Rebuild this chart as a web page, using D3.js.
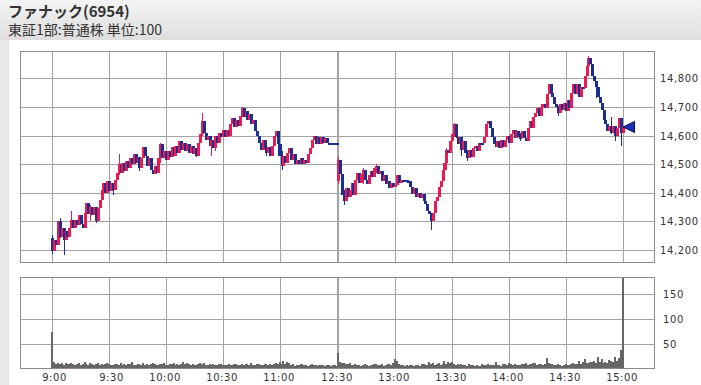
<!DOCTYPE html>
<html>
<head>
<meta charset="utf-8">
<script src="https://cdn.jsdelivr.net/npm/d3@7"></script>
<style>
body{margin:0;background:#fff;}
svg{display:block;}
</style>
</head>
<body>
<svg id="chart" width="701" height="385"></svg>
<script>
//minute closes, 9:00 - 11:30
var amClose = [14195,14235,14215,14300,14245,14275,14235,14265,14245,14275,
  14305,14275,14305,14285,14320,14290,14275,14330,14365,14325,
  14350,14320,14350,14300,14345,14375,14410,14435,14400,14440,
  14405,14435,14410,14445,14470,14500,14470,14505,14475,14510,
  14485,14520,14500,14535,14505,14525,14485,14520,14560,14530,
  14495,14520,14480,14465,14495,14470,14520,14570,14520,14545,
  14515,14545,14525,14560,14530,14565,14540,14580,14550,14575,
  14545,14570,14540,14565,14535,14555,14530,14575,14605,14650,
  14610,14585,14600,14565,14585,14555,14600,14575,14610,14595,
  14620,14595,14620,14600,14640,14660,14630,14655,14635,14670,
  14695,14665,14685,14655,14675,14640,14655,14615,14600,14575,
  14550,14585,14555,14540,14560,14530,14565,14600,14615,14570,
  14530,14495,14530,14505,14540,14555,14515,14535,14500,14515,
  14500,14520,14500,14515,14505,14535,14555,14585,14600,14570,
  14595,14570,14595,14575,14590,14575,14575,14575,14575,14575,
  14575];
//minute closes, 12:30 - 15:00
var pmClose = [14515,14465,14390,14370,14415,14385,14410,14435,14390,14445,
  14470,14435,14465,14480,14445,14430,14460,14475,14455,14485,
  14495,14465,14475,14440,14460,14430,14440,14415,14435,14420,
  14425,14460,14435,14445,14445,14445,14440,14440,14420,14395,
  14415,14385,14400,14380,14395,14370,14360,14335,14325,14300,
  14330,14370,14385,14420,14440,14480,14505,14550,14540,14580,
  14605,14640,14595,14570,14595,14550,14580,14540,14520,14550,
  14525,14555,14565,14545,14575,14575,14575,14595,14640,14650,
  14625,14595,14570,14560,14580,14555,14585,14560,14585,14600,
  14575,14605,14620,14590,14615,14595,14590,14615,14590,14580,
  14625,14650,14625,14665,14680,14695,14670,14700,14710,14695,
  14745,14780,14750,14735,14710,14700,14680,14710,14690,14715,
  14685,14725,14695,14750,14780,14745,14780,14735,14770,14765,
  14810,14845,14870,14850,14810,14790,14770,14735,14715,14690,
  14655,14640,14615,14635,14610,14635,14600,14625,14660,14610,
  14630];
var amOpen = 14240;
var pmOpen = 14440;

//[minute, high, low] for the longer shadows
var amWicks = [[0,14250,14185],[4,14310,14240],[6,14260,14180],[10,14335,14280],
  [20,14355,14300],[23,14350,14295],[32,14430,14390],[35,14535,14460],
  [46,14500,14475],[57,14575,14505],[79,14680,14600],[76,14545,14525],
  [84,14590,14530],[86,14600,14545],[100,14700,14665],[113,14560,14530],
  [119,14580,14530],[121,14545,14480]];
var pmWicks = [[0,14525,14430],[3,14410,14355],[13,14485,14430],[20,14500,14470],
  [49,14330,14270],[57,14555,14480],[61,14645,14595],[62,14640,14590],
  [65,14580,14530],[68,14550,14510],[96,14610,14580],[107,14710,14685],
  [116,14705,14670],[132,14880,14840],[136,14780,14730],[144,14665,14605],
  [146,14630,14580],[149,14655,14565]];

//volume (x1000 shares)
var amVol = [74,12,8,10,9,11,7,10,8,9,10,9,7,8,11,6,9,12,8,7,10,8,6,9,11,7,8,6,9,10,
  8,7,6,9,8,7,10,6,8,7,9,8,12,7,6,8,9,7,10,6,8,7,9,11,8,6,7,9,8,10,
  7,6,8,9,10,7,8,6,9,12,8,10,9,7,8,6,7,9,10,8,11,7,6,8,7,9,6,7,8,9,
  7,6,6,8,7,6,8,9,7,6,8,7,9,8,6,10,7,6,9,8,7,6,8,9,7,8,6,9,10,8,
  12,9,15,8,12,10,6,8,5,6,7,9,8,6,7,5,6,8,7,6,5,6,7,6,5,6,7,5,6,6,5];
var pmVol = [31,12,10,11,9,8,10,7,6,8,7,6,5,7,8,6,5,7,6,8,9,7,6,8,5,6,9,8,7,10,
  19,14,8,7,6,5,6,5,7,6,5,6,7,5,9,8,6,7,12,8,10,7,9,11,6,8,15,8,12,11,
  12,9,7,8,6,9,7,6,5,8,6,7,5,6,5,4,8,7,6,8,7,6,7,12,7,6,5,8,9,7,
  10,8,6,9,7,6,7,9,8,10,7,9,8,11,10,7,9,8,6,8,21,10,8,9,7,6,8,6,5,7,
  8,6,7,9,10,8,9,14,9,12,18,10,11,13,12,14,10,22,12,18,11,13,10,16,14,12,22,15,20,38,184];

var gridTimes = ["9:00","9:30","10:00","10:30","11:00","11:30","12:30","13:00","13:30","14:00","14:30","15:00"];
var labelTimes = ["9:00","9:30","10:00","10:30","11:00","12:30","13:00","13:30","14:00","14:30","15:00"];
var priceTicks = [14200,14300,14400,14500,14600,14700,14800];
var volTicks = [50,100,150];
var lastPrice = 14630;

var red = "#ec1a52", blue = "#1b2f8e";

//time string to a slot on the x axis (lunch break squeezed out)
var slotOf = function(t)
{
    var p = t.split(":");
    var min = (+p[0])*60 + (+p[1]);
    if(min <= 690) return min - 540;
    return 150.92 + (min - 750);
}

var buildSession = function(closes, firstOpen, wicks, startSlot)
{
    var wickMap = {};
    wicks.forEach(function(w){ wickMap[w[0]] = w; });
    return closes.map(function(c, i)
    {
        var o = i === 0 ? firstOpen : closes[i-1];
        var w = wickMap[i];
        return {
            slot: startSlot + i, open: o, close: c,
            high: w ? Math.max(w[1], o, c) : Math.max(o, c),
            low: w ? Math.min(w[2], o, c) : Math.min(o, c)
        };
    });
}

var candles = buildSession(amClose, amOpen, amWicks, 0)
    .concat(buildSession(pmClose, pmOpen, pmWicks, 150.92));
var vols = amVol.map(function(v, i){ return {slot: i, v: v}; })
    .concat(pmVol.map(function(v, i){ return {slot: 150.92 + i, v: v}; }));

var svg = d3.select("#chart");

//header
var defs = svg.append("defs");
var grad = defs.append("linearGradient").attr("id", "hdr")
    .attr("x1", 0).attr("y1", 0).attr("x2", 0).attr("y2", 1);
grad.append("stop").attr("offset", "0%").attr("stop-color", "#f4f4f4");
grad.append("stop").attr("offset", "100%").attr("stop-color", "#dedede");

svg.append("rect").attr("width", 701).attr("height", 40).attr("fill", "url(#hdr)");
svg.append("rect").attr("y", 40).attr("width", 9).attr("height", 345).attr("fill", "#e8e8e8");

svg.append("text").attr("x", 8).attr("y", 17)
    .style("font-family", "'Noto Sans CJK JP', sans-serif")
    .style("font-size", "15px").style("font-weight", "bold").attr("fill", "#333")
    .text("ファナック(6954)");
svg.append("text").attr("x", 8).attr("y", 35)
    .style("font-family", "'Noto Sans CJK JP', sans-serif")
    .style("font-size", "14px").attr("fill", "#333")
    .text("東証1部:普通株 単位:100");

//panels
var left = 20.7, right = 654.3;
var upper = {top: 51, bottom: 262.3};
var lower = {top: 277.3, bottom: 368.3};

var xScale = d3.scaleLinear()
    .domain([-16.68, 317.68])
    .range([left, right])
    .interpolate(d3.interpolateRound);
var yScale = d3.scaleLinear()
    .domain([14156, 14896])
    .range([upper.bottom, upper.top])
    .interpolate(d3.interpolateRound);
var vScale = d3.scaleLinear()
    .domain([0, 184.5])
    .range([lower.bottom, lower.top])
    .interpolate(d3.interpolateRound);

var gridSlots = gridTimes.map(slotOf);
var labelSlots = labelTimes.map(slotOf);

var drawGrid = function(panel, scale, ticks, fmt, pad)
{
    //vertical grid
    svg.append("g")
        .attr("transform", "translate(0," + panel.bottom + ")")
        .call(d3.axisBottom(xScale).tickValues(gridSlots)
            .tickSize(-(panel.bottom - panel.top)).tickFormat(""))
        .call(function(g){ g.select(".domain").remove(); })
        .selectAll("line").attr("stroke", "#a3a3a3");

    //horizontal grid + labels on the right
    var ax = svg.append("g")
        .attr("transform", "translate(" + Math.round(right) + ",0)")
        .call(d3.axisRight(scale).tickValues(ticks)
            .tickSize(-(Math.round(right) - Math.round(left))).tickPadding(pad).tickFormat(fmt));
    ax.select(".domain").remove();
    ax.selectAll("line").attr("stroke", "#a3a3a3");
    ax.selectAll("text").attr("fill", "#333")
        .style("font-family", "'DejaVu Sans', sans-serif")
        .style("font-size", "10px").style("letter-spacing", "0.6px");

    //border
    svg.append("rect")
        .attr("x", 20.5).attr("y", Math.floor(panel.top) + 0.5)
        .attr("width", 634).attr("height", Math.floor(panel.bottom) - Math.floor(panel.top))
        .attr("fill", "none").attr("stroke", "#8c8c8c");
}

drawGrid(upper, yScale, priceTicks, d3.format(","), 6);
drawGrid(lower, vScale, volTicks, d3.format("d"), 9);

//time labels
var xAxis = svg.append("g")
    .attr("transform", "translate(0," + Math.floor(lower.bottom) + ")")
    .call(d3.axisBottom(xScale).tickValues(labelSlots).tickSize(0).tickPadding(6)
        .tickFormat(function(d, i){ return labelTimes[i]; }));
xAxis.select(".domain").remove();
xAxis.selectAll("text")
    .attr("text-anchor", "end").attr("dx", 14.5).attr("fill", "#333")
    .style("font-family", "'DejaVu Sans', sans-serif")
    .style("font-size", "10px").style("letter-spacing", "0.6px");

//candles
var cg = svg.append("g").attr("shape-rendering", "crispEdges");
var colorOf = function(d)
{
    if(d.close > d.open) return red;
    return blue;
}
cg.selectAll("rect.wick")
    .data(candles)
    .enter()
    .append("rect")
    .classed("wick", true)
    .attr("x", function(d){ return xScale(d.slot); })
    .attr("width", 1)
    .attr("y", function(d){ return yScale(d.high); })
    .attr("height", function(d){ return Math.max(1, yScale(d.low) - yScale(d.high)); })
    .attr("fill", colorOf);
cg.selectAll("rect.body")
    .data(candles)
    .enter()
    .append("rect")
    .classed("body", true)
    .attr("x", function(d){ return xScale(d.slot) - 1; })
    .attr("width", 3)
    .attr("y", function(d){ return yScale(Math.max(d.open, d.close)); })
    .attr("height", function(d)
    {
        return Math.max(2, yScale(Math.min(d.open, d.close)) - yScale(Math.max(d.open, d.close)));
    })
    .attr("fill", colorOf);

//volume bars
svg.append("g").attr("shape-rendering", "crispEdges")
    .selectAll("rect")
    .data(vols)
    .enter()
    .append("rect")
    .attr("x", function(d){ return xScale(d.slot) - 1; })
    .attr("width", 2)
    .attr("y", function(d){ return vScale(d.v); })
    .attr("height", function(d){ return vScale(0) - vScale(d.v); })
    .attr("fill", "#666");

//last price marker
var tipX = xScale(slotOf("15:00")), tipY = yScale(lastPrice);
svg.append("path")
    .attr("d", "M" + tipX + "," + tipY + "L" + (tipX + 11.5) + "," + (tipY - 5.5) +
        "L" + (tipX + 11.5) + "," + (tipY + 5.5) + "Z")
    .attr("fill", "#1f2fb8").attr("stroke", "#0b0b55").attr("stroke-width", 1);
</script>
</body>
</html>
